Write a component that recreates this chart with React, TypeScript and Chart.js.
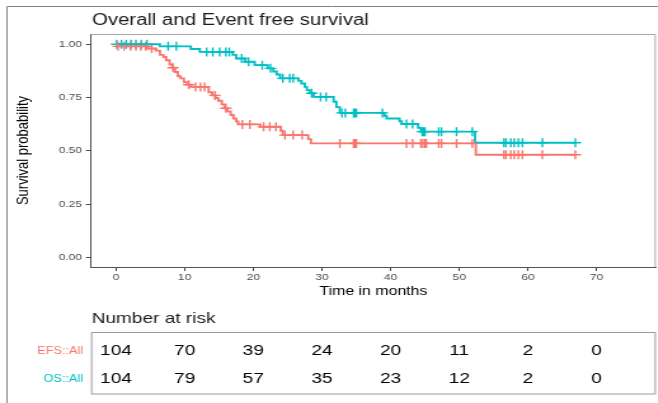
import React, { useEffect, useRef } from 'react';
import { Chart, registerables } from 'chart.js';
Chart.register(...registerables);

// ---------------- data ----------------
const TITLE = 'Overall and Event free survival';
const X_TITLE = 'Time in months';
const Y_TITLE = 'Survival probability';
const RISK_TITLE = 'Number at risk';

const xTicks = [0, 10, 20, 30, 40, 50, 60, 70];
const yTicks = [0, 0.25, 0.5, 0.75, 1];

// EFS step curve (time, survival after the event)
const efsTime = [0, 0.2, 4.6, 5.8, 6.4, 6.9, 7.3, 7.8, 8.2, 8.6, 9.0, 9.4, 9.9, 10.4, 10.9, 13.5, 14.0, 14.5, 14.9, 15.4, 15.8, 16.2, 16.7, 17.1, 17.5, 17.8, 21.0, 24.0, 24.3, 28.0, 28.4, 52.4];
const efsSurv = [1.0, 0.99, 0.98, 0.97, 0.95, 0.94, 0.925, 0.905, 0.89, 0.87, 0.85, 0.84, 0.822, 0.81, 0.8, 0.775, 0.76, 0.748, 0.735, 0.718, 0.7, 0.685, 0.668, 0.652, 0.638, 0.624, 0.613, 0.594, 0.574, 0.555, 0.535, 0.482];
const efsCensor = [0.3, 1.2, 2.1, 2.9, 3.6, 4.3, 5.2, 8.3, 10.6, 11.6, 12.3, 12.9, 14.4, 16.0, 18.4, 19.5, 21.5, 22.4, 23.3, 24.6, 25.8, 27.1, 32.6, 34.6, 34.8, 35.0, 42.3, 43.2, 44.4, 44.7, 45.0, 45.2, 47.0, 47.4, 49.6, 51.9, 56.5, 56.8, 57.5, 58.0, 58.6, 59.2, 62.1, 66.9];

// OS step curve
const osTime = [0, 6.4, 10.9, 12.2, 17.0, 17.5, 18.8, 20.2, 22.1, 22.9, 23.4, 23.9, 26.6, 27.0, 27.5, 27.8, 28.2, 28.8, 31.7, 32.1, 32.6, 39.1, 39.4, 41.3, 41.6, 44.0, 44.4, 52.3];
const osSurv = [1.0, 0.99, 0.978, 0.964, 0.95, 0.933, 0.918, 0.902, 0.887, 0.872, 0.858, 0.84, 0.828, 0.816, 0.8, 0.785, 0.77, 0.753, 0.73, 0.705, 0.678, 0.665, 0.652, 0.639, 0.626, 0.608, 0.59, 0.538];
const osCensor = [0.1, 0.8, 1.5, 2.2, 2.9, 3.7, 4.5, 7.6, 8.8, 13.2, 14.1, 15.1, 16.0, 16.5, 18.3, 19.3, 21.3, 22.5, 24.3, 25.3, 25.8, 28.5, 29.8, 30.6, 32.9, 33.4, 34.6, 34.8, 35.0, 38.8, 42.3, 43.2, 44.6, 44.8, 45.0, 47.0, 47.4, 49.6, 51.9, 56.5, 56.8, 57.5, 58.0, 58.6, 59.2, 62.1, 66.9];

const riskTimes = [0, 10, 20, 30, 40, 50, 60, 70];
const efsRisk = [104, 70, 39, 24, 20, 11, 2, 0];
const osRisk = [104, 79, 57, 35, 23, 12, 2, 0];
const groupLabels = ['EFS::All', 'OS::All'];
const groupColors = ['#F8766D', '#00BFC4'];

// ---------------- layout ----------------
const SX = 1.27; // horizontal stretch of the reference picture
const W = 658;
const H = 403;
const LW = W / SX;
const FONT = '"Liberation Sans", Arial, sans-serif';

const stepAt = (times: number[], surv: number[], t: number) => {
  let v = surv[0];
  for (let i = 0; i < times.length; i++) if (times[i] <= t) v = surv[i];
  return v;
};

const curve = (times: number[], surv: number[], censor: number[]) => {
  const pts = times.map((t, i) => ({ x: t, y: surv[i] }));
  const end = Math.max(...censor);
  pts.push({ x: end, y: stepAt(times, surv, end) });
  return pts;
};

const marks = (times: number[], surv: number[], censor: number[]) =>
  censor.map((t) => ({ x: t, y: stepAt(times, surv, t) }));

const decor = {
  id: 'kmDecor',
  afterDraw(chart: any) {
    const { ctx, chartArea: ca, scales } = chart;
    const xs = scales.x;
    ctx.save();
    // outer figure frame
    ctx.strokeStyle = '#808080';
    ctx.lineWidth = 1;
    ctx.beginPath();
    ctx.moveTo(5.5, H);
    ctx.lineTo(5.5, 6.5);
    ctx.lineTo(chart.width, 6.5);
    ctx.stroke();
    // panel top / right border
    ctx.strokeStyle = '#a8a8a8';
    ctx.beginPath();
    ctx.moveTo(ca.left, ca.top + 0.5);
    ctx.lineTo(ca.right - 0.5, ca.top + 0.5);
    ctx.lineTo(ca.right - 0.5, ca.bottom);
    ctx.stroke();
    // title
    ctx.fillStyle = '#1a1a1a';
    ctx.font = `16px ${FONT}`;
    ctx.textAlign = 'left';
    ctx.textBaseline = 'alphabetic';
    ctx.fillText(TITLE, ca.left + 0.8, 25);
    // risk table
    ctx.font = `15px ${FONT}`;
    ctx.fillText(RISK_TITLE, ca.left + 0.5, 322.7);
    ctx.strokeStyle = '#9a9a9a';
    ctx.strokeRect(ca.left + 0.5, 332.5, ca.right - ca.left - 1, 61.5);
    const rows = [efsRisk, osRisk];
    const baselines = [355, 383.3];
    const labelBase = [353.5, 381.6];
    rows.forEach((row, r) => {
      ctx.fillStyle = '#000';
      ctx.font = `15px ${FONT}`;
      ctx.textAlign = 'center';
      row.forEach((v, i) => {
        ctx.fillText(String(v), xs.getPixelForValue(riskTimes[i]), baselines[r]);
      });
      ctx.fillStyle = groupColors[r];
      ctx.font = `10px ${FONT}`;
      ctx.textAlign = 'right';
      ctx.fillText(groupLabels[r], 65.4, labelBase[r]);
    });
    ctx.restore();
  },
};

export default function App() {
  const ref = useRef<HTMLCanvasElement | null>(null);
  useEffect(() => {
    if (!ref.current) return;
    const tickFont = { family: FONT, size: 9.5 };
    const chart = new Chart(ref.current, {
      type: 'scatter',
      data: {
        datasets: [
          {
            data: curve(efsTime, efsSurv, efsCensor),
            showLine: true,
            stepped: true,
            borderColor: groupColors[0],
            borderWidth: 1.9,
            pointRadius: 0,
            fill: false,
          },
          {
            data: curve(osTime, osSurv, osCensor),
            showLine: true,
            stepped: true,
            borderColor: groupColors[1],
            borderWidth: 1.9,
            pointRadius: 0,
            fill: false,
          },
          {
            data: marks(efsTime, efsSurv, efsCensor),
            showLine: false,
            pointStyle: 'cross',
            pointRadius: 4.5,
            borderColor: groupColors[0],
            backgroundColor: groupColors[0],
            pointBorderWidth: 1.4,
          },
          {
            data: marks(osTime, osSurv, osCensor),
            showLine: false,
            pointStyle: 'cross',
            pointRadius: 4.5,
            borderColor: groupColors[1],
            backgroundColor: groupColors[1],
            pointBorderWidth: 1.4,
          },
        ] as any,
      },
      options: {
        animation: false,
        responsive: false,
        devicePixelRatio: 1,
        events: [],
        layout: { autoPadding: false, padding: { left: 0, top: 34, right: LW - 656 / SX, bottom: H - 302 } },
        plugins: { legend: { display: false }, tooltip: { enabled: false }, title: { display: false } },
        scales: {
          x: {
            type: 'linear',
            min: -3.64,
            max: 78.63,
            afterBuildTicks: (s: any) => {
              s.ticks = xTicks.map((v) => ({ value: v }));
            },
            afterFit: (s: any) => {
              s.height = 35;
              s.paddingLeft = 0;
              s.paddingRight = 0;
            },
            ticks: { color: '#4d4d4d', font: tickFont, padding: 1, maxRotation: 0, autoSkip: false },
            grid: { display: true, drawOnChartArea: false, drawTicks: true, tickLength: 4, tickColor: '#444', tickWidth: 1 },
            border: { display: true, color: '#555', width: 1 },
            title: { display: true, text: X_TITLE, color: '#000', font: { family: FONT, size: 12.5 }, padding: { top: 0, bottom: 3 } },
          },
          y: {
            type: 'linear',
            min: -0.0446,
            max: 1.048,
            afterBuildTicks: (s: any) => {
              s.ticks = yTicks.map((v) => ({ value: v }));
            },
            afterFit: (s: any) => {
              s.width = 91 / SX;
              s.paddingTop = 0;
              s.paddingBottom = 0;
            },
            ticks: { color: '#4d4d4d', font: tickFont, padding: 3, callback: (v: any) => Number(v).toFixed(2) },
            grid: { display: true, drawOnChartArea: false, drawTicks: true, tickLength: 4, tickColor: '#444', tickWidth: 1 },
            border: { display: true, color: '#555', width: 1 },
            title: { display: true, text: Y_TITLE, color: '#000', font: { family: FONT, size: 13 }, padding: { top: 10.5, bottom: 0 } },
          },
        },
      } as any,
      plugins: [decor],
    });
    return () => chart.destroy();
  }, []);
  return (
    <div style={{ position: 'fixed', left: 0, top: 0, width: W, height: H, overflow: 'hidden', background: '#fff' }}>
      <div style={{ width: LW, height: H, transform: `scaleX(${SX})`, transformOrigin: '0 0' }}>
        <canvas ref={ref} width={LW} height={H} style={{ display: 'block' }} />
      </div>
    </div>
  );
}
